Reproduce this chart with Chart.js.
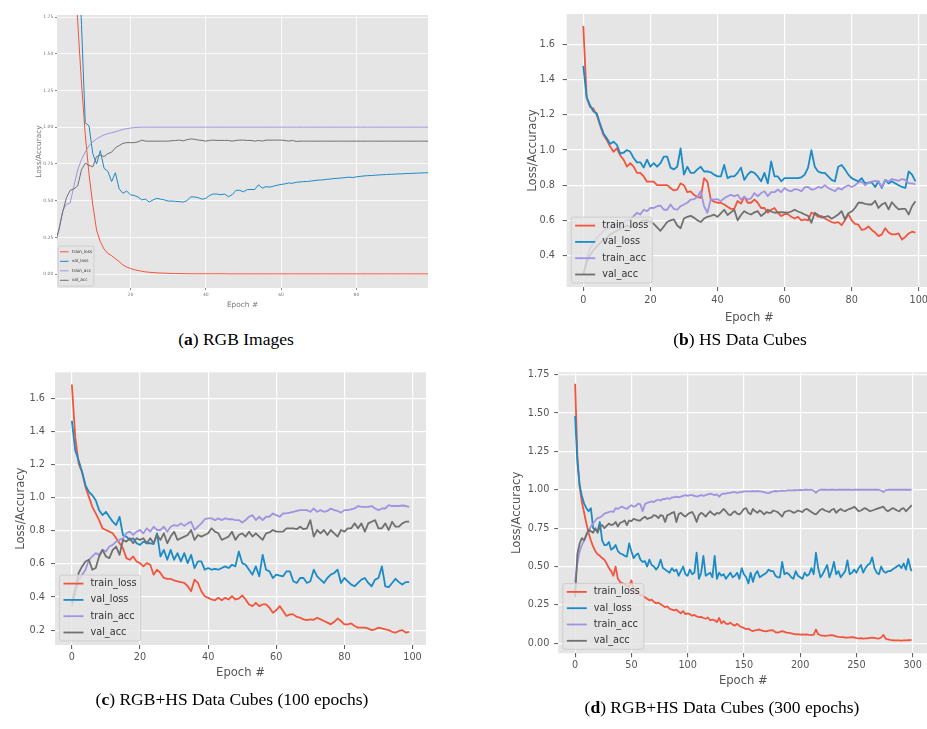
<!DOCTYPE html>
<html>
<head>
<meta charset="utf-8">
<script src="https://cdn.jsdelivr.net/npm/chart.js@4.4.1/dist/chart.umd.min.js"></script>
<style>
  html, body { margin: 0; padding: 0; background: #fff; }
  body { position: relative; width: 927px; height: 729px; overflow: hidden; }
  canvas { position: absolute; }
  .cap { position: absolute; transform: translate(-50%, -50%); white-space: nowrap;
         font-family: "Liberation Serif", "DejaVu Serif", serif; font-size: 17.5px; color: #000; line-height: 1; }
</style>
</head>
<body>
<canvas id="chartA"></canvas>
<canvas id="chartB"></canvas>
<canvas id="chartC"></canvas>
<canvas id="chartD"></canvas>
<div class="cap" style="left:236px; top:340px">(<b>a</b>) RGB Images</div>
<div class="cap" style="left:740px; top:340px">(<b>b</b>) HS Data Cubes</div>
<div class="cap" style="left:232px; top:700px">(<b>c</b>) RGB+HS Data Cubes (100 epochs)</div>
<div class="cap" style="left:722px; top:708px">(<b>d</b>) RGB+HS Data Cubes (300 epochs)</div>
<script>
// series names / colours (ggplot cycle)
const seriesNames = ['train_loss', 'val_loss', 'train_acc', 'val_acc'];
const seriesColors = ['#F2553D', '#1B8BC6', '#A093E0', '#707070'];

// epochs: 100-epoch runs use every epoch, the 300-epoch run is read every 2nd epoch
const epochs100 = Array.from({ length: 100 }, (_, i) => i);
const epochs300 = Array.from({ length: 150 }, (_, i) => i * 2).concat([299]);

// ---- (a) RGB Images
const aXTicks = [20, 40, 60, 80];
const aYTicks = [0, 0.25, 0.5, 0.75, 1.0, 1.25, 1.5, 1.75];
const aTrainLoss = [8.0, 6.0, 4.6, 3.5, 2.7, 2.15, 1.72, 1.30, 0.95, 0.68,
  0.47, 0.30, 0.22, 0.17, 0.14, 0.125, 0.105, 0.085, 0.062, 0.048,
  0.038, 0.030, 0.024, 0.019, 0.015, 0.012, 0.010, 0.008, 0.007, 0.006,
  0.005, 0.004, 0.004, 0.003, 0.003, 0.002, 0.002, 0.002, 0.002, 0.002,
  0.002, 0.002, 0.002, 0.002, 0.002, 0.002, 0.001, 0.001, 0.001, 0.001,
  0.001, 0.001, 0.001, 0.001, 0.001, 0.001, 0.001, 0.001, 0.001, 0.001,
  0.001, 0.001, 0.001, 0.001, 0.001, 0.001, 0.001, 0.001, 0.001, 0.001,
  0.001, 0.001, 0.001, 0.001, 0.001, 0.001, 0.001, 0.001, 0.001, 0.001,
  0.001, 0.001, 0.001, 0.001, 0.001, 0.001, 0.001, 0.001, 0.001, 0.001,
  0.001, 0.001, 0.001, 0.001, 0.001, 0.001, 0.001, 0.001, 0.001, 0.001];
const aValLoss = [4.4, 4.0, 3.6, 3.2, 2.9, 2.6, 2.25, 1.70, 1.03, 1.01,
  0.82, 0.75, 0.84, 0.72, 0.70, 0.63, 0.69, 0.58, 0.55, 0.565,
  0.54, 0.535, 0.525, 0.505, 0.51, 0.49, 0.505, 0.515, 0.51, 0.505,
  0.497, 0.497, 0.495, 0.493, 0.49, 0.50, 0.525, 0.525, 0.52, 0.51,
  0.515, 0.535, 0.545, 0.545, 0.54, 0.545, 0.527, 0.54, 0.57, 0.57,
  0.56, 0.575, 0.576, 0.575, 0.608, 0.585, 0.595, 0.592, 0.598, 0.605,
  0.61, 0.614, 0.62, 0.618, 0.625, 0.627, 0.63, 0.63, 0.634, 0.637,
  0.64, 0.641, 0.645, 0.647, 0.65, 0.652, 0.654, 0.657, 0.66, 0.657,
  0.662, 0.665, 0.668, 0.67, 0.671, 0.673, 0.675, 0.676, 0.678, 0.679,
  0.68, 0.682, 0.682, 0.684, 0.685, 0.686, 0.687, 0.688, 0.689, 0.69];
const aTrainAcc = [0.19, 0.30, 0.43, 0.475, 0.485, 0.60, 0.71, 0.78, 0.83, 0.875,
  0.90, 0.92, 0.935, 0.948, 0.956, 0.962, 0.968, 0.977, 0.985, 0.99,
  0.994, 0.997, 0.999, 1.0, 1.0, 1.0, 1.0, 1.0, 1.0, 1.0,
  1.0, 1.0, 1.0, 1.0, 1.0, 1.0, 1.0, 1.0, 1.0, 1.0,
  1.0, 1.0, 1.0, 1.0, 1.0, 1.0, 1.0, 1.0, 1.0, 1.0,
  1.0, 1.0, 1.0, 1.0, 1.0, 1.0, 1.0, 1.0, 1.0, 1.0,
  1.0, 1.0, 1.0, 1.0, 1.0, 1.0, 1.0, 1.0, 1.0, 1.0,
  1.0, 1.0, 1.0, 1.0, 1.0, 1.0, 1.0, 1.0, 1.0, 1.0,
  1.0, 1.0, 1.0, 1.0, 1.0, 1.0, 1.0, 1.0, 1.0, 1.0,
  1.0, 1.0, 1.0, 1.0, 1.0, 1.0, 1.0, 1.0, 1.0, 1.0];
const aValAcc = [0.22, 0.30, 0.42, 0.52, 0.57, 0.58, 0.60, 0.71, 0.755, 0.74,
  0.73, 0.80, 0.81, 0.80, 0.82, 0.83, 0.86, 0.875, 0.89, 0.895,
  0.895, 0.895, 0.90, 0.912, 0.905, 0.905, 0.905, 0.905, 0.905, 0.905,
  0.905, 0.908, 0.91, 0.912, 0.907, 0.915, 0.92, 0.918, 0.912, 0.91,
  0.905, 0.91, 0.912, 0.91, 0.91, 0.91, 0.91, 0.905, 0.91, 0.912,
  0.912, 0.91, 0.91, 0.905, 0.91, 0.905, 0.912, 0.912, 0.912, 0.912,
  0.912, 0.91, 0.905, 0.91, 0.903, 0.905, 0.905, 0.905, 0.905, 0.905,
  0.905, 0.905, 0.905, 0.905, 0.905, 0.905, 0.905, 0.905, 0.905, 0.905,
  0.905, 0.905, 0.905, 0.905, 0.905, 0.905, 0.905, 0.905, 0.905, 0.905,
  0.905, 0.905, 0.905, 0.905, 0.905, 0.905, 0.905, 0.905, 0.905, 0.905];

// ---- (b) HS Data Cubes
const bXTicks = [0, 20, 40, 60, 80, 100];
const bYTicks = [0.4, 0.6, 0.8, 1.0, 1.2, 1.4, 1.6];
const bTrainLoss = [1.707, 1.30, 1.245, 1.236, 1.20, 1.14, 1.086, 1.057, 1.02, 0.99,
  1.01, 0.97, 0.945, 0.906, 0.925, 0.906, 0.87, 0.87, 0.85, 0.82,
  0.82, 0.82, 0.80, 0.80, 0.80, 0.80, 0.784, 0.77, 0.775, 0.81,
  0.80, 0.76, 0.765, 0.745, 0.733, 0.728, 0.84, 0.82, 0.718, 0.705,
  0.70, 0.70, 0.69, 0.677, 0.665, 0.665, 0.71, 0.695, 0.735, 0.70,
  0.70, 0.718, 0.70, 0.67, 0.67, 0.643, 0.66, 0.67, 0.643, 0.624,
  0.635, 0.635, 0.62, 0.61, 0.62, 0.60, 0.605, 0.60, 0.643, 0.635,
  0.62, 0.625, 0.61, 0.60, 0.59, 0.585, 0.59, 0.572, 0.60, 0.635,
  0.60, 0.58, 0.575, 0.545, 0.55, 0.565, 0.545, 0.53, 0.51, 0.52,
  0.555, 0.53, 0.52, 0.52, 0.525, 0.49, 0.505, 0.525, 0.535, 0.53];
const bValLoss = [1.48, 1.30, 1.255, 1.22, 1.21, 1.15, 1.095, 1.067, 1.035, 1.048,
  1.03, 0.98, 0.985, 1.0, 0.99, 0.955, 0.93, 0.93, 0.90, 0.945,
  0.905, 0.925, 0.905, 0.925, 0.963, 0.963, 0.90, 0.89, 0.905, 1.01,
  0.86, 0.905, 0.87, 0.87, 0.89, 0.905, 0.878, 0.878, 0.873, 0.86,
  0.85, 0.85, 0.915, 0.84, 0.85, 0.85, 0.87, 0.90, 0.83, 0.86,
  0.878, 0.87, 0.85, 0.822, 0.87, 0.81, 0.935, 0.85, 0.85, 0.822,
  0.84, 0.84, 0.84, 0.84, 0.84, 0.845, 0.86, 0.90, 1.0, 0.905,
  0.878, 0.87, 0.87, 0.85, 0.83, 0.822, 0.905, 0.915, 0.89, 0.86,
  0.84, 0.83, 0.822, 0.84, 0.81, 0.815, 0.815, 0.79, 0.822, 0.784,
  0.83, 0.81, 0.822, 0.81, 0.80, 0.79, 0.784, 0.878, 0.86, 0.822];
const bTrainAcc = [0.29, 0.38, 0.44, 0.47, 0.50, 0.52, 0.54, 0.55, 0.56, 0.57,
  0.575, 0.58, 0.59, 0.60, 0.605, 0.624, 0.643, 0.633, 0.66, 0.652,
  0.67, 0.67, 0.68, 0.684, 0.66, 0.66, 0.69, 0.665, 0.66, 0.68,
  0.69, 0.70, 0.718, 0.72, 0.733, 0.765, 0.68, 0.643, 0.72, 0.718,
  0.72, 0.71, 0.725, 0.737, 0.745, 0.737, 0.745, 0.718, 0.733, 0.718,
  0.725, 0.755, 0.737, 0.755, 0.765, 0.737, 0.76, 0.76, 0.775, 0.76,
  0.784, 0.77, 0.765, 0.778, 0.775, 0.765, 0.787, 0.79, 0.775, 0.778,
  0.79, 0.784, 0.80, 0.784, 0.775, 0.765, 0.784, 0.775, 0.79, 0.80,
  0.79, 0.80, 0.815, 0.82, 0.80, 0.815, 0.82, 0.825, 0.82, 0.79,
  0.83, 0.82, 0.835, 0.83, 0.825, 0.835, 0.83, 0.81, 0.81, 0.805];
const bValAcc = [0.29, 0.36, 0.40, 0.43, 0.45, 0.47, 0.49, 0.50, 0.52, 0.53,
  0.54, 0.55, 0.56, 0.57, 0.56, 0.58, 0.57, 0.59, 0.60, 0.60,
  0.59, 0.58, 0.56, 0.54, 0.565, 0.59, 0.60, 0.605, 0.57, 0.555,
  0.61, 0.62, 0.625, 0.615, 0.60, 0.59, 0.61, 0.62, 0.625, 0.632,
  0.62, 0.64, 0.66, 0.63, 0.645, 0.66, 0.60, 0.63, 0.652, 0.64,
  0.633, 0.645, 0.652, 0.624, 0.64, 0.66, 0.65, 0.643, 0.645, 0.647,
  0.645, 0.643, 0.65, 0.66, 0.65, 0.643, 0.633, 0.625, 0.586, 0.643,
  0.63, 0.615, 0.62, 0.624, 0.609, 0.62, 0.633, 0.652, 0.605, 0.64,
  0.65, 0.67, 0.70, 0.70, 0.694, 0.69, 0.69, 0.71, 0.67, 0.69,
  0.70, 0.662, 0.703, 0.68, 0.662, 0.665, 0.665, 0.633, 0.68, 0.709];

// ---- (c) RGB+HS, 100 epochs
const cXTicks = [0, 20, 40, 60, 80, 100];
const cYTicks = [0.2, 0.4, 0.6, 0.8, 1.0, 1.2, 1.4, 1.6];
const cTrainLoss = [1.684, 1.365, 1.205, 1.155, 1.065, 1.005, 0.945, 0.905, 0.865, 0.815,
  0.805, 0.795, 0.785, 0.755, 0.725, 0.695, 0.635, 0.625, 0.645, 0.615,
  0.605, 0.585, 0.605, 0.595, 0.535, 0.565, 0.545, 0.515, 0.51, 0.51,
  0.50, 0.495, 0.49, 0.485, 0.465, 0.435, 0.505, 0.485, 0.435, 0.405,
  0.395, 0.385, 0.38, 0.395, 0.38, 0.395, 0.385, 0.405, 0.385, 0.39,
  0.41, 0.385, 0.355, 0.345, 0.365, 0.345, 0.355, 0.355, 0.335, 0.305,
  0.32, 0.345, 0.315, 0.285, 0.295, 0.295, 0.28, 0.275, 0.265, 0.26,
  0.265, 0.262, 0.275, 0.265, 0.255, 0.245, 0.235, 0.25, 0.27, 0.255,
  0.235, 0.235, 0.24, 0.225, 0.215, 0.215, 0.215, 0.21, 0.20, 0.205,
  0.215, 0.21, 0.205, 0.20, 0.19, 0.185, 0.195, 0.20, 0.185, 0.19];
const cValLoss = [1.464, 1.285, 1.225, 1.155, 1.075, 1.035, 1.015, 0.985, 0.925, 0.895,
  0.915, 0.885, 0.855, 0.835, 0.885, 0.775, 0.765, 0.745, 0.755, 0.725,
  0.715, 0.735, 0.725, 0.725, 0.72, 0.785, 0.645, 0.685, 0.625, 0.685,
  0.625, 0.665, 0.615, 0.665, 0.605, 0.655, 0.575, 0.615, 0.615, 0.565,
  0.575, 0.565, 0.57, 0.565, 0.575, 0.585, 0.575, 0.595, 0.585, 0.675,
  0.605, 0.595, 0.565, 0.535, 0.585, 0.525, 0.655, 0.565, 0.555, 0.515,
  0.535, 0.53, 0.525, 0.555, 0.555, 0.495, 0.485, 0.515, 0.515, 0.485,
  0.495, 0.565, 0.525, 0.505, 0.485, 0.515, 0.535, 0.545, 0.565, 0.485,
  0.515, 0.495, 0.475, 0.465, 0.485, 0.505, 0.515, 0.485, 0.465, 0.505,
  0.515, 0.585, 0.465, 0.46, 0.485, 0.51, 0.49, 0.475, 0.49, 0.49];
const cTrainAcc = [0.345, 0.42, 0.50, 0.535, 0.565, 0.625, 0.645, 0.665, 0.655, 0.685,
  0.675, 0.705, 0.715, 0.735, 0.745, 0.755, 0.785, 0.795, 0.775, 0.795,
  0.805, 0.785, 0.815, 0.795, 0.825, 0.805, 0.805, 0.825, 0.795, 0.825,
  0.835, 0.83, 0.845, 0.83, 0.845, 0.855, 0.805, 0.825, 0.845, 0.87,
  0.875, 0.875, 0.865, 0.875, 0.865, 0.875, 0.87, 0.87, 0.865, 0.865,
  0.85, 0.865, 0.885, 0.895, 0.865, 0.885, 0.865, 0.885, 0.885, 0.905,
  0.895, 0.885, 0.905, 0.905, 0.91, 0.915, 0.92, 0.925, 0.925, 0.925,
  0.915, 0.935, 0.915, 0.925, 0.915, 0.92, 0.935, 0.925, 0.92, 0.91,
  0.925, 0.925, 0.93, 0.935, 0.95, 0.945, 0.945, 0.945, 0.95, 0.935,
  0.925, 0.935, 0.935, 0.955, 0.95, 0.95, 0.95, 0.953, 0.95, 0.945];
const cValAcc = [0.365, 0.45, 0.545, 0.585, 0.615, 0.625, 0.565, 0.575, 0.645, 0.685,
  0.645, 0.635, 0.685, 0.705, 0.655, 0.745, 0.735, 0.755, 0.725, 0.755,
  0.745, 0.755, 0.725, 0.755, 0.725, 0.775, 0.745, 0.785, 0.725, 0.765,
  0.795, 0.745, 0.755, 0.765, 0.775, 0.805, 0.745, 0.775, 0.765, 0.775,
  0.785, 0.815, 0.795, 0.785, 0.745, 0.755, 0.765, 0.795, 0.745, 0.775,
  0.785, 0.765, 0.795, 0.765, 0.785, 0.765, 0.745, 0.785, 0.79, 0.805,
  0.795, 0.795, 0.795, 0.815, 0.815, 0.815, 0.81, 0.825, 0.81, 0.815,
  0.865, 0.765, 0.805, 0.785, 0.805, 0.775, 0.805, 0.785, 0.765, 0.805,
  0.795, 0.815, 0.815, 0.845, 0.815, 0.845, 0.795, 0.845, 0.855, 0.865,
  0.815, 0.815, 0.845, 0.805, 0.855, 0.825, 0.825, 0.845, 0.855, 0.855];

// ---- (d) RGB+HS, 300 epochs (values at epochs 0,2,...,298 and 299)
const dXTicks = [0, 50, 100, 150, 200, 250, 300];
const dYTicks = [0, 0.25, 0.5, 0.75, 1.0, 1.25, 1.5, 1.75];
const dTrainLoss = [1.69, 1.22, 1.02, 0.92, 0.85, 0.78, 0.72, 0.67, 0.63, 0.60,
  0.58, 0.57, 0.555, 0.545, 0.52, 0.49, 0.47, 0.44, 0.50, 0.42,
  0.40, 0.39, 0.385, 0.375, 0.37, 0.41, 0.35, 0.34, 0.325, 0.315,
  0.31, 0.30, 0.29, 0.28, 0.285, 0.27, 0.26, 0.265, 0.255, 0.245,
  0.235, 0.24, 0.225, 0.22, 0.215, 0.22, 0.205, 0.195, 0.21, 0.19,
  0.195, 0.19, 0.18, 0.185, 0.175, 0.17, 0.172, 0.165, 0.16, 0.168,
  0.15, 0.155, 0.15, 0.138, 0.165, 0.13, 0.145, 0.128, 0.125, 0.135,
  0.122, 0.115, 0.127, 0.113, 0.105, 0.10, 0.092, 0.095, 0.085, 0.08,
  0.085, 0.088, 0.09, 0.082, 0.08, 0.078, 0.082, 0.085, 0.084, 0.072,
  0.07, 0.075, 0.08, 0.075, 0.07, 0.068, 0.065, 0.062, 0.058, 0.06,
  0.057, 0.058, 0.056, 0.058, 0.055, 0.054, 0.056, 0.09, 0.06, 0.052,
  0.05, 0.048, 0.05, 0.052, 0.054, 0.05, 0.045, 0.042, 0.041, 0.04,
  0.038, 0.037, 0.039, 0.041, 0.038, 0.034, 0.032, 0.033, 0.031, 0.032,
  0.033, 0.035, 0.037, 0.035, 0.032, 0.031, 0.038, 0.055, 0.03, 0.025,
  0.022, 0.02, 0.019, 0.019, 0.019, 0.018, 0.019, 0.019, 0.02, 0.021,
  0.022];
const dValLoss = [1.48, 1.18, 1.03, 0.96, 0.91, 0.88, 0.86, 0.88, 0.75, 0.74,
  0.73, 0.79, 0.67, 0.64, 0.64, 0.66, 0.61, 0.62, 0.64, 0.60,
  0.585, 0.58, 0.57, 0.565, 0.65, 0.60, 0.555, 0.575, 0.585, 0.545,
  0.53, 0.535, 0.50, 0.545, 0.51, 0.50, 0.48, 0.50, 0.545, 0.49,
  0.48, 0.47, 0.46, 0.49, 0.47, 0.48, 0.44, 0.47, 0.50, 0.45,
  0.44, 0.48, 0.45, 0.46, 0.59, 0.42, 0.46, 0.57, 0.44, 0.45,
  0.46, 0.43, 0.57, 0.42, 0.46, 0.44, 0.45, 0.42, 0.44, 0.46,
  0.43, 0.44, 0.46, 0.42, 0.49, 0.45, 0.43, 0.39, 0.46, 0.40,
  0.45, 0.47, 0.43, 0.44, 0.45, 0.46, 0.48, 0.47, 0.47, 0.44,
  0.43, 0.43, 0.53, 0.45, 0.46, 0.45, 0.43, 0.42, 0.47, 0.44,
  0.43, 0.42, 0.46, 0.44, 0.45, 0.49, 0.45, 0.59, 0.49, 0.43,
  0.45, 0.48, 0.51, 0.43, 0.47, 0.53, 0.45, 0.47, 0.43, 0.45,
  0.47, 0.54, 0.45, 0.46, 0.48, 0.46, 0.49, 0.51, 0.46, 0.49,
  0.51, 0.52, 0.56, 0.49, 0.46, 0.45, 0.50, 0.47, 0.46, 0.47,
  0.47, 0.48, 0.49, 0.50, 0.51, 0.49, 0.52, 0.48, 0.55, 0.49,
  0.47];
const dTrainAcc = [0.40, 0.52, 0.60, 0.64, 0.67, 0.70, 0.73, 0.76, 0.78, 0.80,
  0.815, 0.82, 0.83, 0.845, 0.85, 0.855, 0.86, 0.855, 0.88, 0.875,
  0.885, 0.89, 0.88, 0.875, 0.89, 0.90, 0.89, 0.895, 0.91, 0.905,
  0.86, 0.905, 0.915, 0.92, 0.925, 0.92, 0.93, 0.935, 0.93, 0.94,
  0.94, 0.945, 0.94, 0.95, 0.95, 0.955, 0.95, 0.955, 0.96, 0.965,
  0.96, 0.965, 0.965, 0.96, 0.955, 0.96, 0.965, 0.96, 0.965, 0.97,
  0.975, 0.97, 0.965, 0.97, 0.955, 0.97, 0.975, 0.975, 0.98, 0.98,
  0.985, 0.985, 0.98, 0.985, 0.985, 0.99, 0.99, 0.99, 0.99, 0.992,
  0.99, 0.992, 0.99, 0.988, 0.985, 0.98, 0.978, 0.985, 0.99, 0.992,
  0.99, 0.993, 0.995, 0.993, 0.995, 0.997, 0.996, 0.998, 0.997, 0.998,
  0.999, 0.998, 1.0, 1.0, 0.999, 1.0, 0.995, 0.98, 0.995, 1.0,
  1.0, 1.0, 0.999, 1.0, 1.0, 1.0, 0.999, 1.0, 1.0, 1.0,
  1.0, 1.0, 1.0, 0.999, 1.0, 1.0, 1.0, 1.0, 1.0, 1.0,
  1.0, 1.0, 1.0, 1.0, 1.0, 1.0, 0.995, 0.985, 0.998, 1.0,
  1.0, 1.0, 1.0, 1.0, 1.0, 1.0, 1.0, 1.0, 1.0, 1.0,
  1.0];
const dValAcc = [0.30, 0.58, 0.65, 0.685, 0.67, 0.71, 0.74, 0.73, 0.72, 0.75,
  0.72, 0.76, 0.77, 0.75, 0.765, 0.78, 0.77, 0.775, 0.79, 0.76,
  0.785, 0.79, 0.80, 0.77, 0.80, 0.795, 0.81, 0.805, 0.80, 0.80,
  0.815, 0.825, 0.81, 0.815, 0.82, 0.835, 0.83, 0.815, 0.835, 0.83,
  0.79, 0.835, 0.84, 0.85, 0.855, 0.79, 0.84, 0.85, 0.835, 0.825,
  0.84, 0.85, 0.855, 0.83, 0.79, 0.835, 0.85, 0.84, 0.825, 0.845,
  0.86, 0.845, 0.835, 0.85, 0.845, 0.86, 0.875, 0.86, 0.84, 0.835,
  0.85, 0.86, 0.845, 0.84, 0.855, 0.875, 0.88, 0.85, 0.84, 0.875,
  0.86, 0.85, 0.865, 0.855, 0.84, 0.855, 0.85, 0.85, 0.865, 0.86,
  0.855, 0.84, 0.825, 0.855, 0.86, 0.865, 0.86, 0.85, 0.855, 0.865,
  0.86, 0.855, 0.87, 0.875, 0.865, 0.855, 0.845, 0.84, 0.855, 0.87,
  0.875, 0.865, 0.86, 0.855, 0.87, 0.875, 0.85, 0.865, 0.875, 0.865,
  0.86, 0.87, 0.875, 0.88, 0.89, 0.875, 0.86, 0.865, 0.875, 0.88,
  0.87, 0.86, 0.865, 0.87, 0.875, 0.88, 0.885, 0.89, 0.87, 0.86,
  0.87, 0.88, 0.875, 0.865, 0.86, 0.875, 0.88, 0.86, 0.875, 0.89,
  0.90];

Chart.defaults.font.family = '"DejaVu Sans", sans-serif';

// grey ggplot panel behind the grid
const plotBg = {
  id: 'plotBg',
  beforeDraw(chart) {
    const a = chart.chartArea, ctx = chart.ctx;
    ctx.save();
    ctx.fillStyle = '#E5E5E5';
    ctx.fillRect(a.left, a.top, a.right - a.left, a.bottom - a.top);
    ctx.restore();
  }
};

// matplotlib-like legend inside the lower left corner
const innerLegend = {
  id: 'innerLegend',
  afterDatasetsDraw(chart, args, o) {
    const ctx = chart.ctx, a = chart.chartArea;
    const items = chart.data.datasets;
    ctx.save();
    ctx.font = o.size + 'px "DejaVu Sans"';
    const tw = Math.max(...items.map(d => ctx.measureText(d.label).width));
    const w = o.textX + tw + o.padR;
    const h = o.first * 2 + o.rowH * (items.length - 1);
    const x = a.left + o.dx, y = a.bottom - o.dy - h;
    ctx.fillStyle = 'rgba(229,229,229,0.8)';
    ctx.strokeStyle = 'rgba(200,200,200,0.8)';
    ctx.lineWidth = 1;
    ctx.beginPath();
    ctx.roundRect(x, y, w, h, o.r);
    ctx.fill();
    ctx.stroke();
    items.forEach((d, i) => {
      const cy = y + o.first + i * o.rowH;
      ctx.strokeStyle = d.borderColor;
      ctx.lineWidth = d.borderWidth;
      ctx.beginPath();
      ctx.moveTo(x + o.lineX, cy);
      ctx.lineTo(x + o.lineX + o.lineLen, cy);
      ctx.stroke();
      ctx.fillStyle = '#333';
      ctx.textBaseline = 'middle';
      ctx.fillText(d.label, x + o.textX, cy);
    });
    ctx.restore();
  }
};

function makePanel(id, g, s) {
  const cv = document.getElementById(id);
  cv.width = g.w; cv.height = g.h;
  cv.style.left = g.x + 'px'; cv.style.top = g.y + 'px';
  const datasets = s.series.map((ys, k) => ({
    label: seriesNames[k],
    data: ys.map((v, i) => ({ x: s.epochs[i], y: v })),
    borderColor: seriesColors[k],
    borderWidth: g.lw,
    pointRadius: 0,
    tension: 0,
    fill: false,
    borderJoinStyle: 'round',
    order: 4 - k
  }));
  const tickFont = { size: g.fs };
  const titleFont = { size: g.ls };
  new Chart(cv, {
    type: 'line',
    data: { datasets },
    options: {
      responsive: false,
      animation: false,
      devicePixelRatio: 1,
      events: [],
      layout: { padding: { top: g.pt, right: g.pr, left: 0, bottom: 0 } },
      plugins: { legend: { display: false }, tooltip: { enabled: false }, innerLegend: g.legend },
      scales: {
        x: {
          type: 'linear', min: s.xMin, max: s.xMax,
          afterBuildTicks: sc => { sc.ticks = s.xTicks.map(v => ({ value: v })); },
          afterFit: sc => { sc.height = g.xh; },
          ticks: { color: g.tc, font: tickFont, padding: g.xpad, maxRotation: 0, autoSkip: false,
                   callback: v => String(v) },
          grid: { color: '#fff', lineWidth: g.gw, tickColor: g.tkc, tickLength: g.tl, tickWidth: 1 },
          border: { display: false },
          title: { display: true, text: 'Epoch #', color: g.tc, font: titleFont,
                   padding: { top: 0, bottom: g.xtb } }
        },
        y: {
          min: s.yMin, max: s.yMax,
          afterBuildTicks: sc => { sc.ticks = s.yTicks.map(v => ({ value: v })); },
          afterFit: sc => { sc.width = g.yw; },
          ticks: { color: g.tc, font: tickFont, padding: g.ypad, autoSkip: false,
                   callback: v => Number(v).toFixed(s.yDec) },
          grid: { color: '#fff', lineWidth: g.gw, tickColor: g.tkc, tickLength: g.tl, tickWidth: 1 },
          border: { display: false },
          title: { display: true, text: 'Loss/Accuracy', color: g.tc, font: titleFont,
                   padding: { top: g.ytp, bottom: 0 } }
        }
      }
    },
    plugins: [plotBg, innerLegend]
  });
}

const bigLegend = { size: 9.7, dx: 4.5, dy: 4, first: 8.5, rowH: 16.3, lineX: 4, lineLen: 20, textX: 31, padR: 4, r: 2.5 };

makePanel('chartA',
  { x: 0, y: 0, w: 440, h: 320, pt: 15, pr: 12, yw: 57, xh: 32, fs: 4.5, ls: 7.4, tl: 2, xpad: 2.3, ypad: 1.7,
    ytp: 34.9, xtb: 10.6, lw: 1.0, gw: 0.8, tc: '#777', tkc: '#888',
    legend: { size: 4.3, dx: 1.3, dy: 2, first: 5.7, rowH: 9.5, lineX: 1.7, lineLen: 8.6, textX: 13.4, padR: 1.7, r: 1.5 } },
  { epochs: epochs100, series: [aTrainLoss, aValLoss, aTrainAcc, aValAcc],
    xMin: 0.5, xMax: 99, xTicks: aXTicks, yMin: -0.095, yMax: 1.764, yTicks: aYTicks, yDec: 2 });

makePanel('chartB',
  { x: 490, y: 0, w: 460, h: 330, pt: 14, pr: 18, yw: 76.7, xh: 43, fs: 9.7, ls: 11.6, tl: 4, xpad: 4, ypad: 7.7,
    ytp: 35.7, xtb: 5, lw: 1.8, gw: 1.2, tc: '#555', tkc: '#555', legend: bigLegend },
  { epochs: epochs100, series: [bTrainLoss, bValLoss, bTrainAcc, bValAcc],
    xMin: -4.95, xMax: 103.95, xTicks: bXTicks, yMin: 0.22, yMax: 1.775, yTicks: bYTicks, yDec: 1 });

makePanel('chartC',
  { x: 0, y: 355, w: 450, h: 340, pt: 17.3, pr: 24, yw: 55, xh: 50, fs: 9.7, ls: 11.6, tl: 4, xpad: 2.9, ypad: 6,
    ytp: 13.7, xtb: 15, lw: 1.8, gw: 1.2, tc: '#555', tkc: '#555', legend: bigLegend },
  { epochs: epochs100, series: [cTrainLoss, cValLoss, cTrainAcc, cValAcc],
    xMin: -4.95, xMax: 103.95, xTicks: cXTicks, yMin: 0.11, yMax: 1.758, yTicks: cYTicks, yDec: 1 });

makePanel('chartD',
  { x: 490, y: 355, w: 460, h: 345, pt: 17.3, pr: 21.6, yw: 68.3, xh: 46.7, fs: 9.7, ls: 11.6, tl: 4, xpad: 1.9, ypad: 5,
    ytp: 19.7, xtb: 12, lw: 1.8, gw: 1.2, tc: '#555', tkc: '#555', legend: bigLegend },
  { epochs: epochs300, series: [dTrainLoss, dValLoss, dTrainAcc, dValAcc],
    xMin: -14.95, xMax: 313.95, xTicks: dXTicks, yMin: -0.065, yMax: 1.765, yTicks: dYTicks, yDec: 2 });
</script>
</body>
</html>
